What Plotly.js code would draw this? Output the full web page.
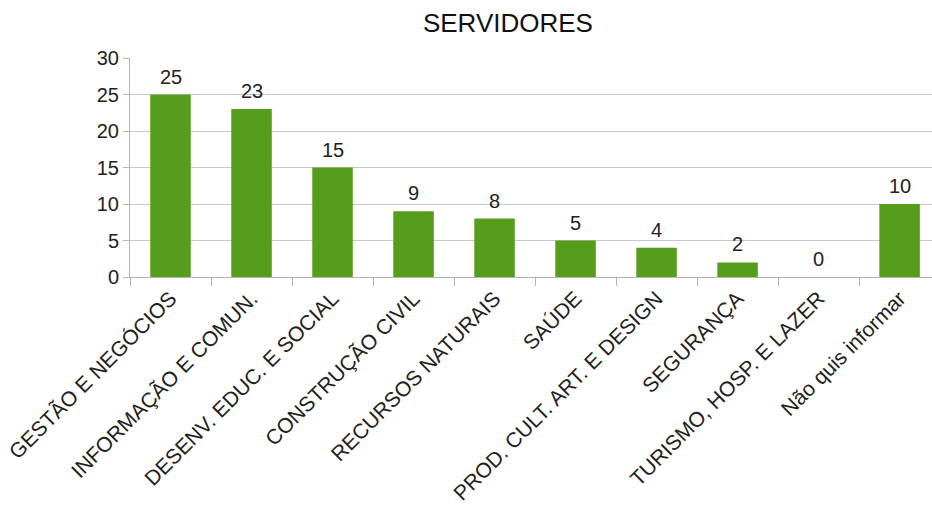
<!DOCTYPE html>
<html>
<head>
<meta charset="utf-8">
<script src="https://cdn.plot.ly/plotly-3.0.1.min.js"></script>
<style>
    html, body { margin: 0; padding: 0; background: #fff; }
    #chart { width: 932px; height: 513px; }
</style>
</head>
<body>
<div id="chart"></div>
<script>
// Servidores por área
const categories = [
    'GESTÃO E NEGÓCIOS',
    'INFORMAÇÃO E COMUN.',
    'DESENV. EDUC. E SOCIAL',
    'CONSTRUÇÃO CIVIL',
    'RECURSOS NATURAIS',
    'SAÚDE',
    'PROD. CULT. ART. E DESIGN',
    'SEGURANÇA',
    'TURISMO, HOSP. E LAZER',
    'Não quis informar'
];
const servidores = [25, 23, 15, 9, 8, 5, 4, 2, 0, 10];
const yTicks = [0, 5, 10, 15, 20, 25, 30];

const font = 'Liberation Sans, Arial, sans-serif';

const data = [{
    type: 'bar',
    x: categories,
    y: servidores,
    marker: { color: '#579d1c' },
    hoverinfo: 'x+y'
}];

// value labels a bit above each bar
const annotations = categories.map((c, i) => ({
    x: c,
    y: servidores[i],
    text: String(servidores[i]),
    showarrow: false,
    yanchor: 'bottom',
    yshift: 5,
    font: { family: font, size: 20, color: '#222' }
}));

const layout = {
    width: 932,
    height: 513,
    paper_bgcolor: '#fff',
    plot_bgcolor: '#fff',
    margin: { l: 130, r: 0, t: 58, b: 236 },
    title: {
        text: 'SERVIDORES',
        font: { family: font, size: 26, color: '#111' },
        x: 0.545,
        xanchor: 'center',
        y: 0.955,
        yanchor: 'middle'
    },
    bargap: 0.5,
    showlegend: false,
    annotations: annotations,
    xaxis: {
        range: [-0.5, 9.4],
        tickangle: -45,
        ticks: 'outside',
        tickson: 'boundaries',
        ticklen: 8,
        tickcolor: '#b3b3b3',
        showline: true,
        linecolor: '#b3b3b3',
        showgrid: false,
        tickfont: { family: font, size: 21, color: '#222' }
    },
    yaxis: {
        range: [0, 30],
        tickvals: yTicks,
        ticks: 'outside',
        ticklen: 6,
        tickcolor: '#b3b3b3',
        showline: true,
        linecolor: '#b3b3b3',
        gridcolor: '#c8c8c8',
        zeroline: false,
        tickfont: { family: font, size: 20, color: '#222' }
    }
};

Plotly.newPlot('chart', data, layout, { displayModeBar: false, staticPlot: true });
</script>
</body>
</html>
